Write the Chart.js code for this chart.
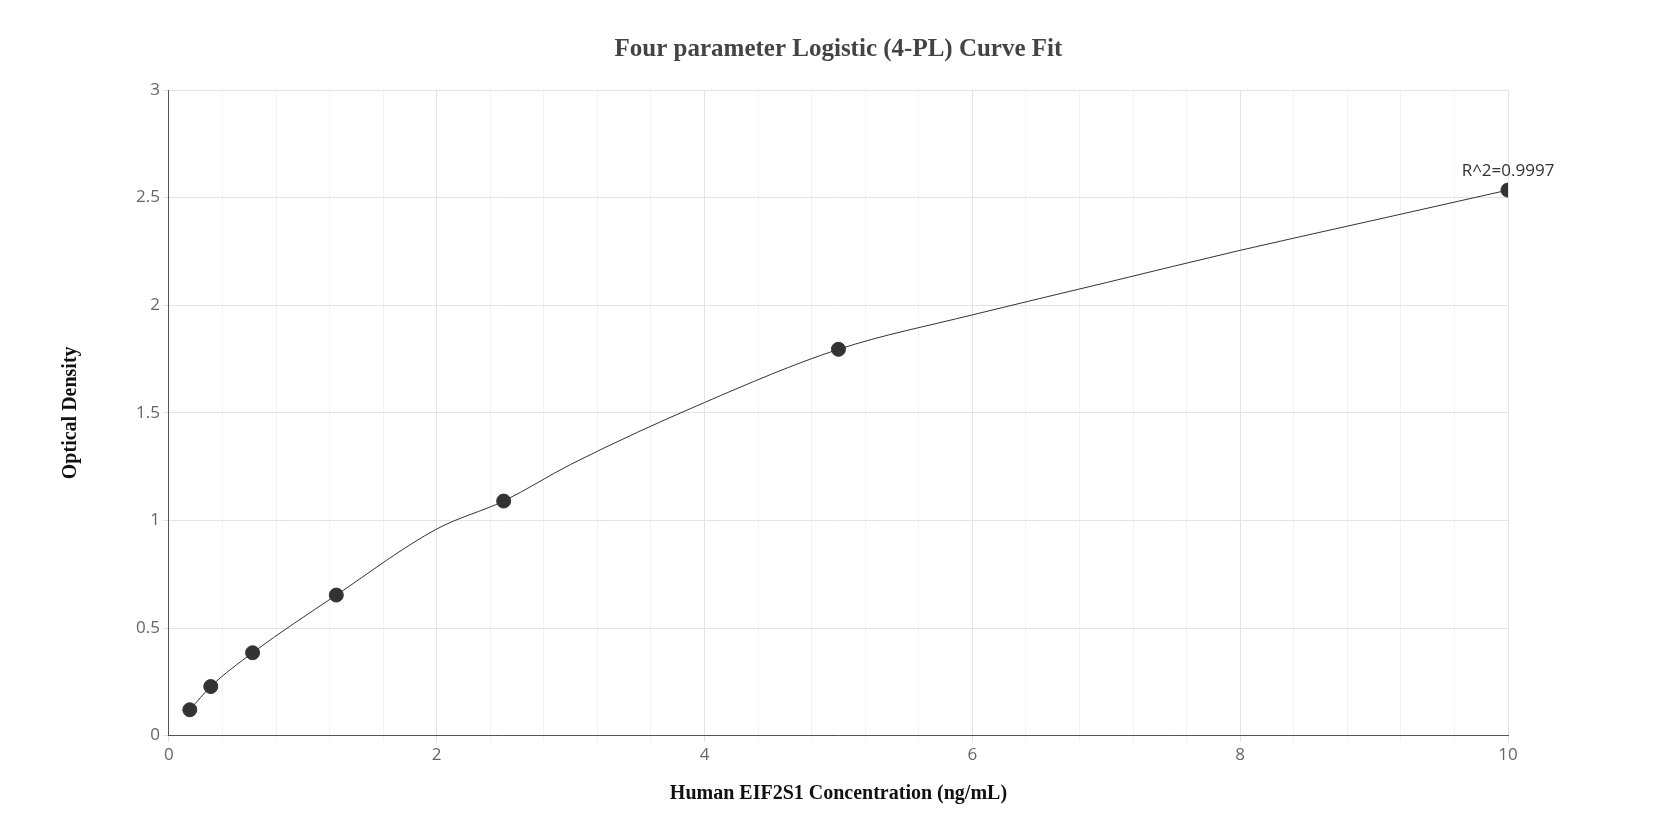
<!DOCTYPE html>
<html><head><meta charset="utf-8">
<script src="https://cdn.jsdelivr.net/npm/chart.js@4"></script>
<style>html,body{margin:0;background:#fff}#w{width:1675px;height:840px}</style></head>
<body><div id="w"><canvas id="c"></canvas></div>
<script>
const pointX=[0.156,0.3125,0.625,1.25,2.5,5,10];
const pointY=[0.12,0.228,0.385,0.653,1.09,1.795,2.535];
const curveX=[0.156,0.3125,0.625,1.25,2,2.5,3,4,5,6,7,8,9,10];
const curveY=[0.12,0.228,0.385,0.653,0.96,1.09,1.26,1.548,1.795,1.955,2.105,2.255,2.395,2.535];
const title='Four parameter Logistic (4-PL) Curve Fit';
const xTitle='Human EIF2S1 Concentration (ng/mL)';
const yTitle='Optical Density';
const rLabel='R^2=0.9997';
const lab={id:'lab',afterDatasetsDraw(ch){const m=ch.getDatasetMeta(1).data[6];const c=ch.ctx;c.save();c.font='17px "Open Sans"';c.fillStyle='#333';c.textAlign='center';c.fillText(rLabel,m.x,m.y-14);
const a=ch.chartArea;c.font='bold 25px "Liberation Serif"';c.fillStyle='#444';c.textBaseline='middle';c.fillText(title,(a.left+a.right)/2,50);c.restore();}};
new Chart(document.getElementById('c'),{type:'scatter',
data:{datasets:[
{type:'line',data:curveX.map((x,i)=>({x,y:curveY[i]})),borderColor:'#333',borderWidth:1,pointRadius:0,cubicInterpolationMode:'monotone',fill:false},
{data:pointX.map((x,i)=>({x,y:pointY[i]})),backgroundColor:'#333',borderColor:'#333',pointRadius:7}]},
options:{responsive:true,maintainAspectRatio:false,animation:false,
layout:{padding:{left:55,right:167,top:90,bottom:30}},
plugins:{legend:{display:false},tooltip:{enabled:false},title:{display:false}},
scales:{
x:{type:'linear',min:0,max:10,ticks:{stepSize:0.4,autoSkip:false,maxRotation:0,color:'#666',font:{family:'Open Sans',size:17},callback:v=>{const r=Math.round(v*10)/10;return (Math.abs(r%2)<1e-6)?String(r):'';}},
 afterBuildTicks:a=>{a.ticks=[];for(let i=0;i<=25;i++)a.ticks.push({value:i*0.4});},
 grid:{color:c=>{const v=Math.round(c.tick.value*10)/10;return v%2===0?'#e0e3ea':'#f2f3f6';},tickLength:6,drawTicks:true},
 border:{color:'#555'},
 title:{display:true,text:xTitle,font:{family:'Liberation Serif',size:20,weight:'bold'},color:'#111',padding:{top:14}}},
y:{min:0,max:3,ticks:{stepSize:0.5,color:'#666',font:{family:'Open Sans',size:17},callback:v=>String(v)},grid:{color:'#e0e3ea',tickLength:6},border:{color:'#555'},
 title:{display:true,text:yTitle,font:{family:'Liberation Serif',size:20,weight:'bold'},color:'#111',padding:{bottom:50}}}}},
plugins:[lab]});
</script></body></html>
